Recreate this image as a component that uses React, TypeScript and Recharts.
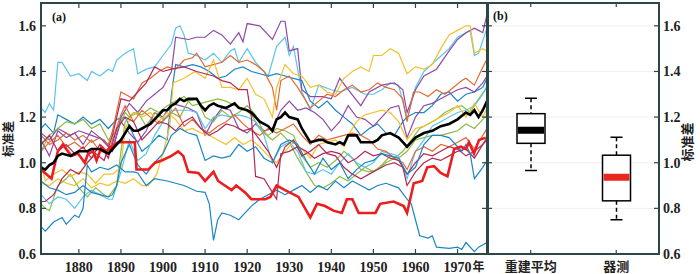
import React from "react";
import {
  LineChart,
  Line,
  ComposedChart,
  Bar,
  XAxis,
  YAxis,
  CartesianGrid,
} from "recharts";

type Pt = [number, number];

// reconstructed mean (thick black)
const meanSeries: Pt[] = [
  [1871, 0.98], [1872, 0.97], [1873, 0.99], [1874, 1.0], [1875, 1.03], [1876, 1.04], [1878, 1.03],
  [1880, 1.05], [1882, 1.05], [1883, 1.06], [1885, 1.06], [1886, 1.05], [1887, 1.04], [1888, 1.06],
  [1889, 1.08], [1890, 1.1], [1891, 1.13], [1892, 1.16], [1893, 1.14], [1894, 1.14], [1895, 1.15],
  [1896, 1.16], [1897, 1.17], [1898, 1.19], [1899, 1.21], [1900, 1.23], [1901, 1.23], [1902, 1.25],
  [1903, 1.26], [1904, 1.28], [1905, 1.27], [1906, 1.28], [1908, 1.28], [1909, 1.25], [1910, 1.23],
  [1911, 1.25], [1912, 1.26], [1913, 1.25], [1915, 1.24], [1916, 1.25], [1917, 1.26], [1918, 1.24],
  [1920, 1.23], [1921, 1.22], [1922, 1.2], [1923, 1.18], [1924, 1.17], [1925, 1.16], [1926, 1.14],
  [1927, 1.19], [1928, 1.2], [1929, 1.22], [1930, 1.2], [1932, 1.19], [1933, 1.15], [1934, 1.12],
  [1935, 1.09], [1937, 1.1], [1938, 1.1], [1939, 1.09], [1941, 1.08], [1942, 1.09], [1943, 1.08],
  [1944, 1.12], [1946, 1.12], [1947, 1.09], [1950, 1.09], [1951, 1.1], [1952, 1.12], [1954, 1.13],
  [1955, 1.12], [1956, 1.11], [1957, 1.09], [1958, 1.07], [1959, 1.09], [1960, 1.11], [1962, 1.13],
  [1964, 1.14], [1966, 1.16], [1968, 1.17], [1970, 1.19], [1972, 1.22], [1973, 1.21], [1974, 1.23],
  [1975, 1.2], [1976, 1.23], [1977, 1.27],
];

// instrumental (thick red)
const obsSeries: Pt[] = [
  [1871, 0.97], [1873.5, 0.93], [1875, 1.05], [1876.2, 1.08], [1878.2, 1.03], [1879.8, 1.04],
  [1881.4, 1.0], [1882.2, 1.04], [1883.4, 1.05], [1884.2, 1.01], [1885.4, 1.07], [1886.5, 1.05],
  [1887.7, 1.07], [1889.3, 1.09], [1893.3, 1.09], [1893.7, 0.97], [1896.5, 0.97], [1898.1, 1.0],
  [1899.7, 1.01], [1902, 1.03], [1903.6, 1.05], [1904.8, 1.03], [1906, 0.96], [1908.4, 0.955],
  [1910, 0.92], [1912, 0.96], [1913.1, 0.92], [1916.3, 0.88], [1917.4, 0.9], [1919.5, 0.87],
  [1921, 0.84], [1924.3, 0.84], [1925.5, 0.85], [1927, 0.9], [1929, 0.88], [1932.2, 0.85],
  [1935, 0.76], [1935.8, 0.79], [1936.6, 0.82], [1938.5, 0.81], [1940.5, 0.79], [1942.5, 0.78],
  [1943.7, 0.84], [1945, 0.84], [1946.5, 0.78], [1950.5, 0.78], [1951.6, 0.82], [1954.8, 0.83],
  [1957.2, 0.81], [1958, 0.78], [1959.6, 0.91], [1961.6, 0.92], [1962.8, 0.98], [1964.4, 0.985],
  [1966, 0.955], [1967.6, 0.94], [1969.2, 1.06], [1970.8, 1.07], [1972, 1.06], [1972.7, 1.09],
  [1973.9, 1.04], [1975.1, 1.1], [1976.7, 1.11],
];

// individual reconstructions (thin)
const cyanA: Pt[] = [
  [1871, 1.24], [1872, 1.22], [1873, 1.26], [1874, 1.23], [1875, 1.44], [1876, 1.44], [1878, 1.38],
  [1880, 1.39], [1882, 1.36], [1883, 1.4], [1885, 1.38], [1887, 1.41], [1888, 1.4], [1889, 1.45],
  [1891, 1.48], [1893, 1.5], [1894, 1.39], [1896, 1.41], [1898, 1.42], [1900, 1.47], [1902, 1.52],
  [1903, 1.59], [1904, 1.6], [1905, 1.56], [1906, 1.48], [1908, 1.47], [1910, 1.45], [1912, 1.48],
  [1914, 1.44], [1916, 1.49], [1917, 1.5], [1918, 1.44], [1920, 1.5], [1922, 1.44], [1925, 1.38],
  [1927, 1.51], [1929, 1.55], [1930, 1.47], [1931, 1.51], [1933, 1.31], [1935, 1.23], [1937, 1.34],
  [1940, 1.32], [1942, 1.31], [1945, 1.33], [1948, 1.3], [1950, 1.3], [1952, 1.32], [1954, 1.35],
  [1956, 1.34], [1958, 1.19], [1960, 1.33], [1962, 1.4], [1965, 1.45], [1968, 1.5], [1970, 1.55],
  [1972, 1.57], [1973, 1.58], [1974, 1.47], [1975, 1.48], [1977, 1.59],
];
const purpleA: Pt[] = [
  [1871, 1.13], [1873, 1.1], [1875, 1.15], [1878, 1.12], [1880, 1.14], [1883, 1.12], [1886, 1.1],
  [1888, 1.05], [1890, 1.2], [1892, 1.26], [1894, 1.22], [1896, 1.27], [1898, 1.3], [1900, 1.33],
  [1902, 1.4], [1903, 1.55], [1906, 1.54], [1908, 1.55], [1910, 1.55], [1912, 1.58], [1914, 1.56],
  [1916, 1.52], [1918, 1.57], [1919, 1.53], [1920, 1.61], [1923, 1.6], [1926, 1.54], [1928, 1.62],
  [1929, 1.62], [1930, 1.49], [1932, 1.5], [1933, 1.32], [1935, 1.29], [1938, 1.29], [1940, 1.28],
  [1942, 1.37], [1944, 1.32], [1947, 1.25], [1949, 1.31], [1952, 1.34], [1955, 1.35], [1957, 1.32],
  [1958, 1.22], [1960, 1.32], [1962, 1.38], [1965, 1.41], [1968, 1.49], [1970, 1.54], [1972, 1.57],
  [1974, 1.59], [1975, 1.58], [1976, 1.57], [1977, 1.65],
];
const blueA: Pt[] = [
  [1871, 1.15], [1872, 1.17], [1874, 1.13], [1875, 1.21], [1877, 1.19], [1879, 1.17], [1881, 1.2],
  [1883, 1.17], [1885, 1.19], [1887, 1.15], [1889, 1.19], [1891, 1.2], [1893, 1.12], [1895, 1.05],
  [1897, 1.08], [1899, 1.12], [1901, 1.1], [1902, 1.3], [1903, 1.43], [1905, 1.42], [1907, 1.43],
  [1909, 1.42], [1911, 1.4], [1913, 1.37], [1915, 1.38], [1917, 1.41], [1919, 1.42], [1921, 1.4],
  [1923, 1.39], [1925, 1.38], [1927, 1.39], [1929, 1.38], [1931, 1.37], [1933, 1.36], [1935, 1.27],
  [1937, 1.24], [1939, 1.27], [1941, 1.23], [1943, 1.2], [1945, 1.17], [1947, 1.12], [1949, 1.15],
  [1951, 1.17], [1953, 1.13], [1955, 1.12], [1957, 1.18], [1958, 1.2], [1960, 1.22], [1962, 1.22],
  [1964, 1.25], [1966, 1.3], [1968, 1.31], [1970, 1.27], [1972, 1.3], [1974, 1.31], [1976, 1.33],
  [1977, 1.37],
];
const orangeA: Pt[] = [
  [1871, 1.12], [1873, 1.08], [1875, 1.1], [1877, 1.13], [1879, 1.1], [1881, 1.12], [1883, 1.09],
  [1885, 1.11], [1887, 1.08], [1888, 1.14], [1890, 1.31], [1891, 1.3], [1893, 1.28], [1895, 1.35],
  [1897, 1.37], [1899, 1.4], [1901, 1.42], [1903, 1.41], [1905, 1.45], [1907, 1.46], [1908, 1.48],
  [1910, 1.42], [1912, 1.43], [1914, 1.44], [1916, 1.47], [1918, 1.44], [1920, 1.45], [1922, 1.43],
  [1924, 1.4], [1926, 1.33], [1927, 1.23], [1928, 1.36], [1930, 1.38], [1932, 1.33], [1934, 1.27],
  [1935, 1.24], [1937, 1.27], [1939, 1.3], [1941, 1.29], [1943, 1.32], [1945, 1.34], [1947, 1.31],
  [1949, 1.32], [1951, 1.35], [1953, 1.33], [1955, 1.32], [1957, 1.28], [1958, 1.18], [1959.5, 1.31],
  [1961, 1.31], [1963, 1.29], [1965, 1.32], [1967, 1.3], [1969, 1.33], [1971, 1.36], [1972, 1.37],
  [1974, 1.34], [1975.5, 1.4], [1977, 1.455],
];
const yellowA: Pt[] = [
  [1871, 0.91], [1873, 0.9], [1875, 0.93], [1877, 0.91], [1879, 0.9], [1881, 0.93], [1883, 0.89],
  [1885, 0.91], [1887, 0.9], [1889, 0.92], [1891, 0.91], [1893, 0.93], [1895, 0.9], [1896.5, 0.9],
  [1898.5, 0.95], [1900.4, 1.07], [1901.6, 1.16], [1902.4, 1.35], [1905, 1.37], [1907.6, 1.4],
  [1910, 1.37], [1912, 1.45], [1914, 1.33], [1916, 1.33], [1918, 1.32], [1920, 1.37], [1922, 1.3],
  [1924, 1.28], [1926, 1.2], [1927, 1.33], [1929, 1.43], [1931, 1.39], [1933, 1.38], [1935, 1.33],
  [1937, 1.34], [1939, 1.31], [1941, 1.3], [1943, 1.37], [1945, 1.4], [1947, 1.42], [1949, 1.4],
  [1950, 1.47], [1952, 1.47], [1954, 1.5], [1956, 1.48], [1958, 1.39], [1960, 1.42], [1962, 1.41],
  [1964, 1.43], [1966, 1.5], [1968, 1.56], [1970, 1.58], [1972, 1.6], [1973, 1.6], [1974, 1.48],
  [1976, 1.5], [1977, 1.49],
];
const purpleB: Pt[] = [
  [1871, 1.1], [1873, 1.03], [1875, 1.14], [1877, 1.11], [1879, 1.13], [1881, 1.08], [1883, 1.14],
  [1885, 1.11], [1887, 1.07], [1888, 1.06], [1890, 1.18], [1892, 1.13], [1894, 1.09], [1896, 1.14],
  [1898, 1.22], [1900, 1.2], [1902, 1.26], [1904, 1.25], [1906, 1.24], [1908, 1.22], [1910, 1.12],
  [1912, 1.19], [1914, 1.24], [1916, 1.23], [1918, 1.15], [1920, 1.13], [1922, 1.17], [1924, 1.14],
  [1926, 1.15], [1928, 1.23], [1930, 1.27], [1932, 1.23], [1934, 1.24], [1936, 1.22], [1938, 1.19],
  [1940, 1.14], [1942, 1.18], [1944, 1.25], [1946, 1.2], [1948, 1.19], [1950, 1.16], [1952, 1.2],
  [1954, 1.24], [1956, 1.25], [1958, 1.11], [1960, 1.2], [1962, 1.25], [1964, 1.26], [1966, 1.28],
  [1968, 1.3], [1970, 1.32], [1972, 1.33], [1974, 1.31], [1976, 1.35], [1977, 1.38],
];
const greenA: Pt[] = [
  [1871, 0.82], [1872, 0.8], [1873, 0.79], [1875, 0.9], [1877, 0.93], [1878, 0.95], [1880, 0.89],
  [1882, 0.85], [1884, 0.89], [1886, 0.86], [1887, 0.85], [1889, 0.9], [1890, 1.05], [1891, 1.18],
  [1893, 1.22], [1895, 1.21], [1897, 1.24], [1899, 1.22], [1901, 1.25], [1903, 1.27], [1905, 1.29],
  [1907, 1.25], [1909, 1.26], [1911, 1.27], [1913, 1.28], [1915, 1.27], [1917, 1.25], [1919, 1.24],
  [1921, 1.21], [1923, 1.15], [1925, 1.12], [1927, 1.15], [1929, 1.14], [1931, 1.12], [1933, 1.03],
  [1935, 0.98], [1937, 1.0], [1939, 0.98], [1941, 1.01], [1943, 1.05], [1945, 1.02], [1947, 0.97],
  [1949, 0.96], [1951, 0.97], [1953, 1.0], [1955, 1.02], [1957, 1.05], [1959, 1.1], [1961, 1.15],
  [1963, 1.17], [1965, 1.19], [1967, 1.22], [1969, 1.24], [1971, 1.25], [1973, 1.22], [1975, 1.28],
  [1977, 1.33],
];
const greenB: Pt[] = [
  [1871, 1.05], [1873, 1.12], [1875, 1.15], [1877, 1.18], [1879, 1.17], [1881, 1.19], [1883, 1.15],
  [1885, 1.17], [1887, 1.1], [1889, 1.14], [1891, 1.22], [1892, 1.2], [1894, 1.22], [1896, 1.16],
  [1898, 1.22], [1900, 1.19], [1902, 1.22], [1904, 1.2], [1906, 1.27], [1908, 1.28], [1910, 1.2],
  [1912, 1.18], [1914, 1.23], [1916, 1.2], [1918, 1.22], [1920, 1.25], [1922, 1.21], [1924, 1.13],
  [1926, 1.1], [1928, 1.13], [1930, 1.09], [1932, 1.02], [1934, 0.96], [1936, 0.9], [1938, 0.89],
  [1940, 0.91], [1942, 0.94], [1944, 0.92], [1946, 0.95], [1948, 0.98], [1950, 0.96], [1952, 0.99],
  [1954, 1.03], [1956, 1.02], [1958, 1.05], [1960, 1.1], [1962, 1.11], [1964, 1.12], [1966, 1.12],
  [1968, 1.13], [1970, 1.14], [1972, 1.17], [1974, 1.15], [1976, 1.19], [1977, 1.21],
];
const cyanB: Pt[] = [
  [1871, 0.86], [1873, 0.82], [1875, 0.85], [1877, 0.84], [1879, 0.8], [1881, 0.85], [1883, 0.88],
  [1885, 0.86], [1887, 0.84], [1888, 0.84], [1890, 0.96], [1892, 1.1], [1894, 1.01], [1896, 1.04],
  [1898, 1.12], [1900, 1.18], [1902, 1.23], [1904, 1.23], [1906, 1.23], [1908, 1.22], [1910, 1.15],
  [1912, 1.2], [1914, 1.21], [1916, 1.2], [1918, 1.21], [1920, 1.2], [1922, 1.18], [1924, 1.12],
  [1926, 1.0], [1928, 1.07], [1930, 1.09], [1932, 1.05], [1934, 0.96], [1936, 0.95], [1938, 0.97],
  [1940, 0.95], [1942, 1.0], [1944, 1.04], [1946, 1.0], [1948, 0.98], [1950, 1.0], [1952, 1.05],
  [1954, 1.04], [1956, 1.03], [1958, 0.93], [1960, 1.05], [1962, 1.1], [1964, 1.16], [1966, 1.18],
  [1968, 1.2], [1970, 1.22], [1972, 1.23], [1974, 1.25], [1976, 1.3], [1977, 1.34],
];
const yellowB: Pt[] = [
  [1871, 1.0], [1872, 0.92], [1874, 0.95], [1876, 0.97], [1878, 0.94], [1880, 0.96], [1882, 0.95],
  [1884, 0.91], [1886, 0.95], [1888, 0.95], [1890, 0.98], [1891, 1.15], [1893, 1.22], [1895, 1.2],
  [1897, 1.22], [1899, 1.18], [1901, 1.22], [1903, 1.19], [1905, 1.14], [1907, 1.15], [1909, 1.13],
  [1911, 1.12], [1913, 1.1], [1915, 1.08], [1917, 1.11], [1919, 1.08], [1921, 1.1], [1923, 1.07],
  [1925, 1.03], [1927, 1.0], [1929, 1.05], [1931, 1.09], [1933, 1.06], [1935, 1.02], [1937, 1.08],
  [1939, 1.09], [1941, 1.1], [1943, 1.07], [1944, 1.12], [1946, 1.18], [1948, 1.21], [1950, 1.22],
  [1952, 1.23], [1954, 1.22], [1956, 1.18], [1958, 1.1], [1960, 1.15], [1962, 1.16], [1964, 1.18],
  [1966, 1.2], [1968, 1.22], [1970, 1.25], [1972, 1.2], [1974, 1.26], [1976, 1.2], [1977, 1.24],
];
const orangeB: Pt[] = [
  [1871, 1.05], [1873, 1.09], [1875, 1.12], [1877, 1.07], [1879, 1.09], [1881, 1.06], [1883, 1.1],
  [1885, 1.05], [1887, 1.04], [1888, 1.1], [1890, 1.21], [1891, 1.25], [1893, 1.18], [1895, 1.23],
  [1897, 1.2], [1899, 1.17], [1901, 1.2], [1903, 1.24], [1905, 1.16], [1907, 1.19], [1909, 1.15],
  [1911, 1.13], [1913, 1.16], [1915, 1.18], [1917, 1.21], [1919, 1.17], [1921, 1.14], [1923, 1.12],
  [1925, 1.15], [1927, 1.13], [1929, 1.15], [1931, 1.17], [1933, 1.12], [1935, 1.08], [1937, 1.12],
  [1939, 1.1], [1941, 1.11], [1943, 1.12], [1945, 1.13], [1947, 1.12], [1949, 1.1], [1951, 1.06],
  [1953, 1.05], [1955, 1.02], [1957, 1.0], [1958, 0.97], [1960, 1.05], [1962, 1.07], [1964, 1.05],
  [1966, 1.08], [1968, 1.07], [1970, 1.09], [1972, 1.11], [1974, 1.06], [1976, 1.12], [1977, 1.15],
];
const maroonA: Pt[] = [
  [1871, 0.83], [1872, 0.83], [1874, 0.86], [1876, 0.93], [1878, 0.97], [1880, 0.95], [1882, 1.0],
  [1884, 1.04], [1886, 1.01], [1888, 1.12], [1890, 1.28], [1892, 1.27], [1894, 1.31], [1896, 1.35],
  [1898, 1.42], [1900, 1.4], [1902, 1.41], [1905, 1.42], [1908, 1.4], [1910, 1.39], [1912, 1.38],
  [1914, 1.36], [1916, 1.35], [1918, 1.32], [1920, 1.32], [1921, 1.2], [1922, 0.94], [1924, 0.93],
  [1926, 0.87], [1927, 0.84], [1928, 1.04], [1930, 1.05], [1932, 1.07], [1934, 1.05], [1936, 1.02],
  [1938, 1.04], [1940, 1.05], [1942, 1.04], [1944, 1.0], [1946, 1.02], [1948, 1.05], [1950, 1.03],
  [1952, 1.04], [1954, 1.02], [1956, 1.01], [1958, 0.95], [1960, 1.0], [1962, 1.04], [1964, 1.03],
  [1966, 1.05], [1968, 1.07], [1970, 1.06], [1972, 1.03], [1974, 1.05], [1976, 1.08], [1977, 1.11],
];
const maroonB: Pt[] = [
  [1871, 1.08], [1873, 1.12], [1875, 1.05], [1877, 1.08], [1879, 1.04], [1881, 1.07], [1883, 1.02],
  [1885, 1.08], [1887, 1.02], [1889, 1.15], [1891, 1.2], [1893, 1.18], [1895, 1.1], [1897, 1.14],
  [1899, 1.18], [1901, 1.17], [1903, 1.14], [1905, 1.18], [1907, 1.2], [1909, 1.15], [1911, 1.12],
  [1913, 1.14], [1915, 1.17], [1917, 1.16], [1919, 1.14], [1921, 1.15], [1923, 1.1], [1925, 1.05],
  [1927, 0.98], [1929, 1.07], [1931, 1.1], [1933, 1.03], [1935, 1.05], [1937, 1.08], [1939, 1.04],
  [1941, 1.03], [1943, 0.98], [1945, 0.95], [1947, 0.93], [1949, 0.95], [1951, 0.97], [1953, 0.99],
  [1955, 1.0], [1957, 0.98], [1958, 0.9], [1960, 0.96], [1962, 1.0], [1964, 1.02], [1966, 1.01],
  [1968, 1.03], [1970, 1.05], [1972, 1.06], [1974, 1.02], [1976, 1.08], [1977, 1.1],
];
const blueB: Pt[] = [
  [1871, 0.92], [1873, 0.89], [1875, 0.88], [1877, 0.86], [1879, 0.87], [1881, 0.9], [1883, 0.87],
  [1885, 0.86], [1887, 0.85], [1888, 0.86], [1889, 0.9], [1890, 1.0], [1892, 1.08], [1894, 0.99],
  [1896, 0.95], [1898, 1.0], [1900, 1.04], [1902, 1.12], [1904, 1.15], [1906, 1.13], [1908, 1.12],
  [1910, 1.01], [1912, 1.03], [1914, 1.02], [1916, 1.03], [1918, 1.08], [1920, 1.05], [1922, 1.07],
  [1924, 1.02], [1926, 1.0], [1928, 1.08], [1930, 1.1], [1932, 1.08], [1934, 1.01], [1936, 0.95],
  [1938, 1.02], [1940, 0.97], [1942, 1.0], [1944, 0.93], [1946, 0.97], [1948, 1.0], [1950, 1.01],
  [1952, 1.04], [1954, 1.03], [1956, 1.02], [1958, 0.95], [1960, 0.98], [1962, 1.08], [1964, 1.12],
  [1966, 1.12], [1968, 1.11], [1970, 1.07], [1971, 1.05], [1972, 1.08], [1973, 1.04], [1974, 0.93],
  [1976, 0.98], [1977, 1.01],
];
const blueC: Pt[] = [
  [1871, 0.72], [1872, 0.7], [1874, 0.74], [1876, 0.76], [1877, 0.73], [1879, 0.77], [1880, 0.76],
  [1881, 0.8], [1882, 0.99], [1883, 0.96], [1885, 0.98], [1887, 0.97], [1889, 0.99], [1891, 0.96],
  [1893, 0.96], [1894, 0.955], [1896, 0.9], [1898, 0.93], [1901, 0.92], [1905, 0.9], [1908, 0.875],
  [1910, 0.87], [1911, 0.82], [1912, 0.66], [1913, 0.75], [1914, 0.78], [1916, 0.77], [1918, 0.75],
  [1919.5, 0.78], [1921, 0.81], [1923, 0.84], [1925, 0.86], [1927, 0.88], [1929, 0.86], [1931, 0.88],
  [1933, 0.9], [1935, 0.87], [1937, 0.9], [1939, 0.88], [1941, 0.92], [1943, 0.89], [1945, 0.92],
  [1947, 0.9], [1949, 0.88], [1951, 0.9], [1953, 0.91], [1956, 0.89], [1958, 0.84], [1959, 0.82],
  [1960, 0.75], [1961, 0.68], [1963, 0.67], [1964, 0.68], [1965, 0.63], [1968, 0.625], [1970, 0.63],
  [1971, 0.62], [1972, 0.65], [1974, 0.61], [1975, 0.63], [1977, 0.65],
];

const thinLines: { name: string; pts: Pt[]; color: string }[] = [
  { name: "cyanA", pts: cyanA, color: "#5cc3ee" },
  { name: "purpleA", pts: purpleA, color: "#8e4aa6" },
  { name: "blueA", pts: blueA, color: "#1a86c6" },
  { name: "orangeA", pts: orangeA, color: "#e26a33" },
  { name: "yellowA", pts: yellowA, color: "#f4c02c" },
  { name: "purpleB", pts: purpleB, color: "#8e4aa6" },
  { name: "greenA", pts: greenA, color: "#8cbb44" },
  { name: "greenB", pts: greenB, color: "#8cbb44" },
  { name: "cyanB", pts: cyanB, color: "#5cc3ee" },
  { name: "yellowB", pts: yellowB, color: "#f4c02c" },
  { name: "orangeB", pts: orangeB, color: "#e26a33" },
  { name: "maroonA", pts: maroonA, color: "#b02a58" },
  { name: "maroonB", pts: maroonB, color: "#b02a58" },
  { name: "blueB", pts: blueB, color: "#1a86c6" },
  { name: "blueC", pts: blueC, color: "#1a86c6" },
];

// box plot panel (b)
const boxNames = ["重建平均", "器测"];
const boxMin = [0.966, 0.75];
const boxQ1 = [1.085, 0.833];
const boxMedian = [1.142, 0.936];
const boxQ3 = [1.215, 1.033];
const boxMax = [1.283, 1.112];
const boxMedianColor = ["#000000", "#e8281e"];

const yearTicks = [1880, 1890, 1900, 1910, 1920, 1930, 1940, 1950, 1960, 1970];
const yTicks = [0.6, 0.8, 1.0, 1.2, 1.4, 1.6];
const Y_DOMAIN: [number, number] = [0.6, 1.7];

const FRAME = "#2c4747";
const NUM_FONT = "'Liberation Serif', 'Times New Roman', serif";
const CJK_FONT = "'Noto Sans CJK SC', sans-serif";

// plot boxes (page pixels)
const A = { x: 41, y: 3, w: 446, h: 251 };
const B = { x: 488, y: 3, w: 171, h: 251 };

const toRows = (pts: Pt[]) => pts.map(([year, v]) => ({ year, v }));

const boxData = boxNames.map((name, i) => ({
  name,
  min: boxMin[i],
  q1: boxQ1[i],
  median: boxMedian[i],
  q3: boxQ3[i],
  max: boxMax[i],
  color: boxMedianColor[i],
}));

// left axis of panel (a): label + inward ticks on both sides
function LeftYTick(props: any) {
  const { x, y, payload } = props;
  return (
    <g>
      <line x1={x} x2={x + 5} y1={y} y2={y} stroke={FRAME} strokeWidth={1.2} />
      <line x1={x + A.w - 5} x2={x + A.w} y1={y} y2={y} stroke={FRAME} strokeWidth={1.2} />
      <text x={x - 5} y={y} dy={5} textAnchor="end" fontFamily={NUM_FONT} fontSize={14} fontWeight="bold" fill="#222">
        {Number(payload.value).toFixed(1)}
      </text>
    </g>
  );
}

// right axis of panel (b)
function RightYTick(props: any) {
  const { x, y, payload } = props;
  return (
    <g>
      <line x1={x - 5} x2={x} y1={y} y2={y} stroke={FRAME} strokeWidth={1.2} />
      <line x1={x - B.w} x2={x - B.w + 4} y1={y} y2={y} stroke={FRAME} strokeWidth={1.2} />
      <text x={x + 4} y={y} dy={5} textAnchor="start" fontFamily={NUM_FONT} fontSize={14} fontWeight="bold" fill="#222">
        {Number(payload.value).toFixed(1)}
      </text>
    </g>
  );
}

function YearTick(props: any) {
  const { x, y, payload } = props;
  return (
    <g>
      <line x1={x} x2={x} y1={y - 5} y2={y} stroke={FRAME} strokeWidth={1.2} />
      <line x1={x} x2={x} y1={y - A.h} y2={y - A.h + 5} stroke={FRAME} strokeWidth={1.2} />
      <text x={x} y={y + 18} textAnchor="middle" fontFamily={NUM_FONT} fontSize={14} fontWeight="bold" fill="#222">
        {payload.value}
      </text>
      {payload.value === 1970 && (
        <text x={x + 15} y={y + 17} textAnchor="start" fontFamily={CJK_FONT} fontSize={12} fontWeight="bold" fill="#222">
          年
        </text>
      )}
    </g>
  );
}

function CatTick(props: any) {
  const { x, y, payload } = props;
  return (
    <g>
      <line x1={x} x2={x} y1={y - 4} y2={y} stroke={FRAME} strokeWidth={1.2} />
      <line x1={x} x2={x} y1={y - B.h} y2={y - B.h + 4} stroke={FRAME} strokeWidth={1.2} />
      <text x={x} y={y + 17} textAnchor="middle" fontFamily={CJK_FONT} fontSize={13} fontWeight="bold" fill="#222">
        {payload.value}
      </text>
    </g>
  );
}

function BoxShape(props: any) {
  const { x, y, width, height, payload } = props;
  const { min, max, q1, q3, median, color } = payload;
  const py = (v: number) => y + ((max - v) / (max - min)) * height;
  const cx = x + width / 2;
  const cap = 6;
  return (
    <g>
      <line x1={cx} x2={cx} y1={py(max)} y2={py(q3)} stroke="#000" strokeWidth={1.5} strokeDasharray="4 3" />
      <line x1={cx} x2={cx} y1={py(q1)} y2={py(min)} stroke="#000" strokeWidth={1.5} strokeDasharray="4 3" />
      <line x1={cx - cap} x2={cx + cap} y1={py(max)} y2={py(max)} stroke="#000" strokeWidth={1.5} />
      <line x1={cx - cap} x2={cx + cap} y1={py(min)} y2={py(min)} stroke="#000" strokeWidth={1.5} />
      <rect x={x} y={py(q3)} width={width} height={py(q1) - py(q3)} fill="#fff" stroke="#000" strokeWidth={1.5} />
      <line x1={x + 1} x2={x + width - 1} y1={py(median)} y2={py(median)} stroke={color} strokeWidth={7} />
    </g>
  );
}

export default function App() {
  return (
    <div style={{ position: "absolute", left: 0, top: 0, width: 700, height: 274, background: "#fff" }}>
      <div style={{ position: "absolute", left: 0, top: 0 }}>
        <LineChart width={500} height={274} margin={{ top: A.y, right: 500 - A.x - A.w, bottom: 0, left: 0 }}>
          <XAxis
            dataKey="year"
            type="number"
            domain={[1871, 1977]}
            ticks={yearTicks}
            height={274 - A.y - A.h}
            tickSize={0}
            tickMargin={0}
            tick={<YearTick />}
            axisLine={false}
            allowDataOverflow
          />
          <YAxis
            type="number"
            domain={Y_DOMAIN}
            ticks={yTicks}
            width={A.x}
            tickSize={0}
            tickMargin={0}
            tick={<LeftYTick />}
            axisLine={false}
            allowDataOverflow
          />
          {thinLines.map((s) => (
            <Line
              key={s.name}
              data={toRows(s.pts)}
              dataKey="v"
              type="linear"
              stroke={s.color}
              strokeWidth={1.2}
              dot={false}
              isAnimationActive={false}
            />
          ))}
          <Line data={toRows(obsSeries)} dataKey="v" type="linear" stroke="#ee1c1c" strokeWidth={2.6} dot={false} isAnimationActive={false} />
          <Line data={toRows(meanSeries)} dataKey="v" type="linear" stroke="#000" strokeWidth={2.6} dot={false} isAnimationActive={false} />
        </LineChart>
      </div>

      <div style={{ position: "absolute", left: B.x, top: 0 }}>
        <ComposedChart width={700 - B.x} height={274} data={boxData} margin={{ top: B.y, right: 0, bottom: 0, left: 0 }}>
          <CartesianGrid vertical={false} stroke="#efefef" />
          <XAxis
            dataKey="name"
            type="category"
            height={274 - B.y - B.h}
            tickSize={0}
            tickMargin={0}
            tick={<CatTick />}
            axisLine={false}
          />
          <YAxis
            orientation="right"
            type="number"
            domain={Y_DOMAIN}
            ticks={yTicks}
            width={700 - B.x - B.w}
            tickSize={0}
            tickMargin={0}
            tick={<RightYTick />}
            axisLine={false}
            allowDataOverflow
          />
          <Bar dataKey={(d: any) => [d.min, d.max]} barSize={28} shape={<BoxShape />} isAnimationActive={false} />
        </ComposedChart>
      </div>

      <svg width={700} height={274} style={{ position: "absolute", left: 0, top: 0, pointerEvents: "none" }}>
        <rect x={A.x} y={A.y} width={A.w} height={A.h} fill="none" stroke={FRAME} strokeWidth={2} />
        <rect x={B.x} y={B.y} width={B.w} height={B.h} fill="none" stroke={FRAME} strokeWidth={2} />
        <text x={52} y={21} fontFamily={NUM_FONT} fontSize={12} fontWeight="bold" fill="#111">(a)</text>
        <text x={493} y={20} fontFamily={NUM_FONT} fontSize={12} fontWeight="bold" fill="#111">(b)</text>
        <text x={0} y={0} transform="translate(13,139) rotate(-90)" textAnchor="middle" fontFamily={CJK_FONT} fontSize={12} fontWeight="bold" fill="#222">
          标准差
        </text>
        <text x={0} y={0} transform="translate(692,142) rotate(-90)" textAnchor="middle" fontFamily={CJK_FONT} fontSize={13} fontWeight="bold" fill="#222">
          标准差
        </text>
      </svg>
    </div>
  );
}
